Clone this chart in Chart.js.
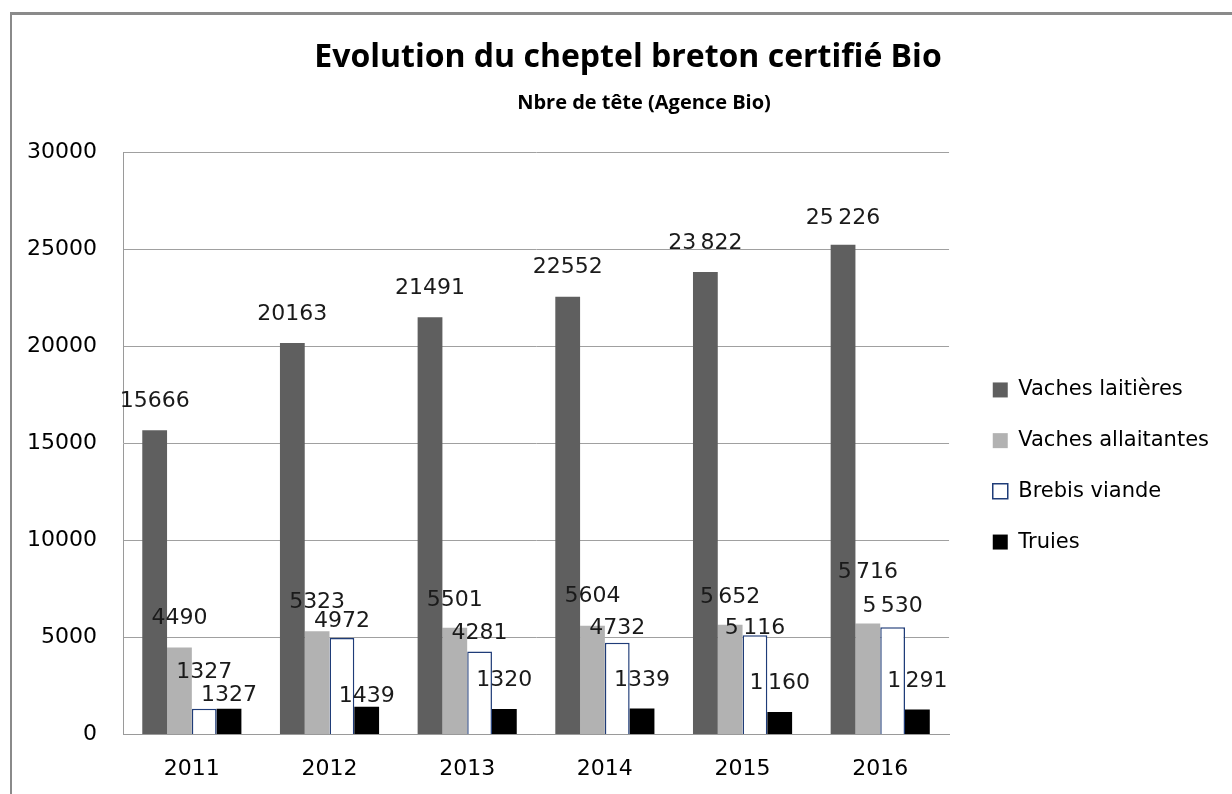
<!DOCTYPE html>
<html>
<head>
<meta charset="utf-8">
<script src="https://cdn.jsdelivr.net/npm/chart.js@4/dist/chart.umd.min.js"></script>
<style>
  html, body { margin: 0; padding: 0; background: #fff; overflow: hidden; }
  #frame {
    position: absolute; left: 10px; top: 12px;
    border-left: 2px solid #8a8a8a; border-top: 3px solid #8a8a8a;
    width: 1240px; height: 800px;
  }
  canvas { display: block; }
</style>
</head>
<body>
<div id="frame"><canvas id="cheptelChart" width="1232" height="800"></canvas></div>
<script>
// Données (Agence Bio) - nombre de têtes
const annees = ['2011', '2012', '2013', '2014', '2015', '2016'];
const vachesLaitieres = [15666, 20163, 21491, 22552, 23822, 25226];
const vachesAllaitantes = [4490, 5323, 5501, 5604, 5652, 5716];
const brebisViande = [1327, 4972, 4281, 4732, 5116, 5530];
const truies = [1327, 1439, 1320, 1339, 1160, 1291];

// Étiquettes telles qu'affichées sur le graphique
const NS = '\u202F';
const etiqVL = ['15666', '20163', '21491', '22552', '23' + NS + '822', '25' + NS + '226'];
const etiqVA = ['4490', '5323', '5501', '5604', '5' + NS + '652', '5' + NS + '716'];
const etiqBV = ['1327', '4972', '4281', '4732', '5' + NS + '116', '5' + NS + '530'];
const etiqTR = ['1327', '1439', '1320', '1339', '1' + NS + '160', '1' + NS + '291'];

const yTicks = [0, 5000, 10000, 15000, 20000, 25000, 30000];

const TITRE = 'Evolution du cheptel breton certifié Bio';
const SOUS_TITRE = 'Nbre de tête (Agence Bio)';

// décalage vertical des étiquettes (px au-dessus du haut de la barre)
const liftVL = [29, 29, 29, 29, 29, 26];
const liftVA = [29, 29, 27, 29, 28, 51];
const liftBV = [37, 17, 18, 14, 7, 21];
const liftTR = [14, 10, 29, 28, 29, 28];

const FONT = "'DejaVu Sans', Verdana, sans-serif";

// Plugin : étiquettes de données au-dessus des barres
const etiquettesPlugin = {
    id: 'etiquettes',
    afterDatasetsDraw(chart) {
        const ctx = chart.ctx;
        ctx.save();
        ctx.font = '22px ' + FONT;
        ctx.fillStyle = '#1a1a1a';
        ctx.textAlign = 'center';
        ctx.textBaseline = 'middle';
        chart.data.datasets.forEach((ds, i) => {
            const meta = chart.getDatasetMeta(i);
            meta.data.forEach((bar, j) => {
                ctx.fillText(ds.etiquettes[j], bar.x, bar.y - ds.lift[j]);
            });
        });
        ctx.restore();
    }
};

// Plugin : petits recalages de la légende et des titres (comme dans Excel)
const recalagePlugin = {
    id: 'recalage',
    afterLayout(chart) {
        const leg = chart.legend;
        if (leg) {
            leg.left += 14; leg.right += 14;
            leg.top += 61; leg.bottom += 61;
        }
        chart.boxes.forEach(b => {
            if (!b.options || b.position !== 'top') return;
            if (b.options.text === TITRE) { b.left += 12; b.right += 12; }
            if (b.options.text === SOUS_TITRE) { b.left += 28; b.right += 28; }
        });
    }
};

new Chart(document.getElementById('cheptelChart'), {
    type: 'bar',
    data: {
        labels: annees,
        datasets: [
            {
                label: 'Vaches laitières',
                data: vachesLaitieres,
                etiquettes: etiqVL, lift: liftVL,
                backgroundColor: '#5f5f5f',
                borderWidth: 0
            },
            {
                label: 'Vaches allaitantes',
                data: vachesAllaitantes,
                etiquettes: etiqVA, lift: liftVA,
                backgroundColor: '#b2b2b2',
                borderWidth: 0
            },
            {
                label: 'Brebis viande',
                data: brebisViande,
                etiquettes: etiqBV, lift: liftBV,
                backgroundColor: '#ffffff',
                borderColor: '#1f3c78',
                borderWidth: 1.5
            },
            {
                label: 'Truies',
                data: truies,
                etiquettes: etiqTR, lift: liftTR,
                backgroundColor: '#000000',
                borderWidth: 0
            }
        ]
    },
    options: {
        responsive: false,
        animation: false,
        layout: { padding: { left: 15, right: 39, top: 0, bottom: 20 } },
        datasets: { bar: { categoryPercentage: 0.72, barPercentage: 1.0 } },
        plugins: {
            title: {
                display: true,
                text: TITRE,
                color: '#000',
                font: { family: "'Open Sans', sans-serif", size: 32, weight: 'bold' },
                padding: { top: 24, bottom: 0 }
            },
            subtitle: {
                display: true,
                text: SOUS_TITRE,
                color: '#000',
                font: { family: "'Open Sans', sans-serif", size: 20, weight: 'bold' },
                padding: { top: 14, bottom: 36.6 }
            },
            legend: {
                position: 'right',
                align: 'center',
                labels: {
                    color: '#000',
                    font: { family: FONT, size: 21 },
                    boxWidth: 15,
                    boxHeight: 15,
                    padding: 29.7
                }
            },
            tooltip: { enabled: false }
        },
        scales: {
            x: {
                grid: { display: false },
                border: { display: true, color: '#9a9a9a' },
                ticks: { color: '#000', font: { family: FONT, size: 22 }, padding: 13 }
            },
            y: {
                min: 0,
                max: 30000,
                afterBuildTicks: (scale) => { scale.ticks = yTicks.map(v => ({ value: v })); },
                afterFit: (scale) => { scale.width = 96; },
                grid: { color: '#a0a0a0', drawTicks: false },
                border: { display: true, color: '#9a9a9a' },
                ticks: {
                    color: '#000',
                    font: { family: FONT, size: 22 },
                    padding: 26,
                    callback: (value) => String(value)
                }
            }
        }
    },
    plugins: [etiquettesPlugin, recalagePlugin]
});
</script>
</body>
</html>
